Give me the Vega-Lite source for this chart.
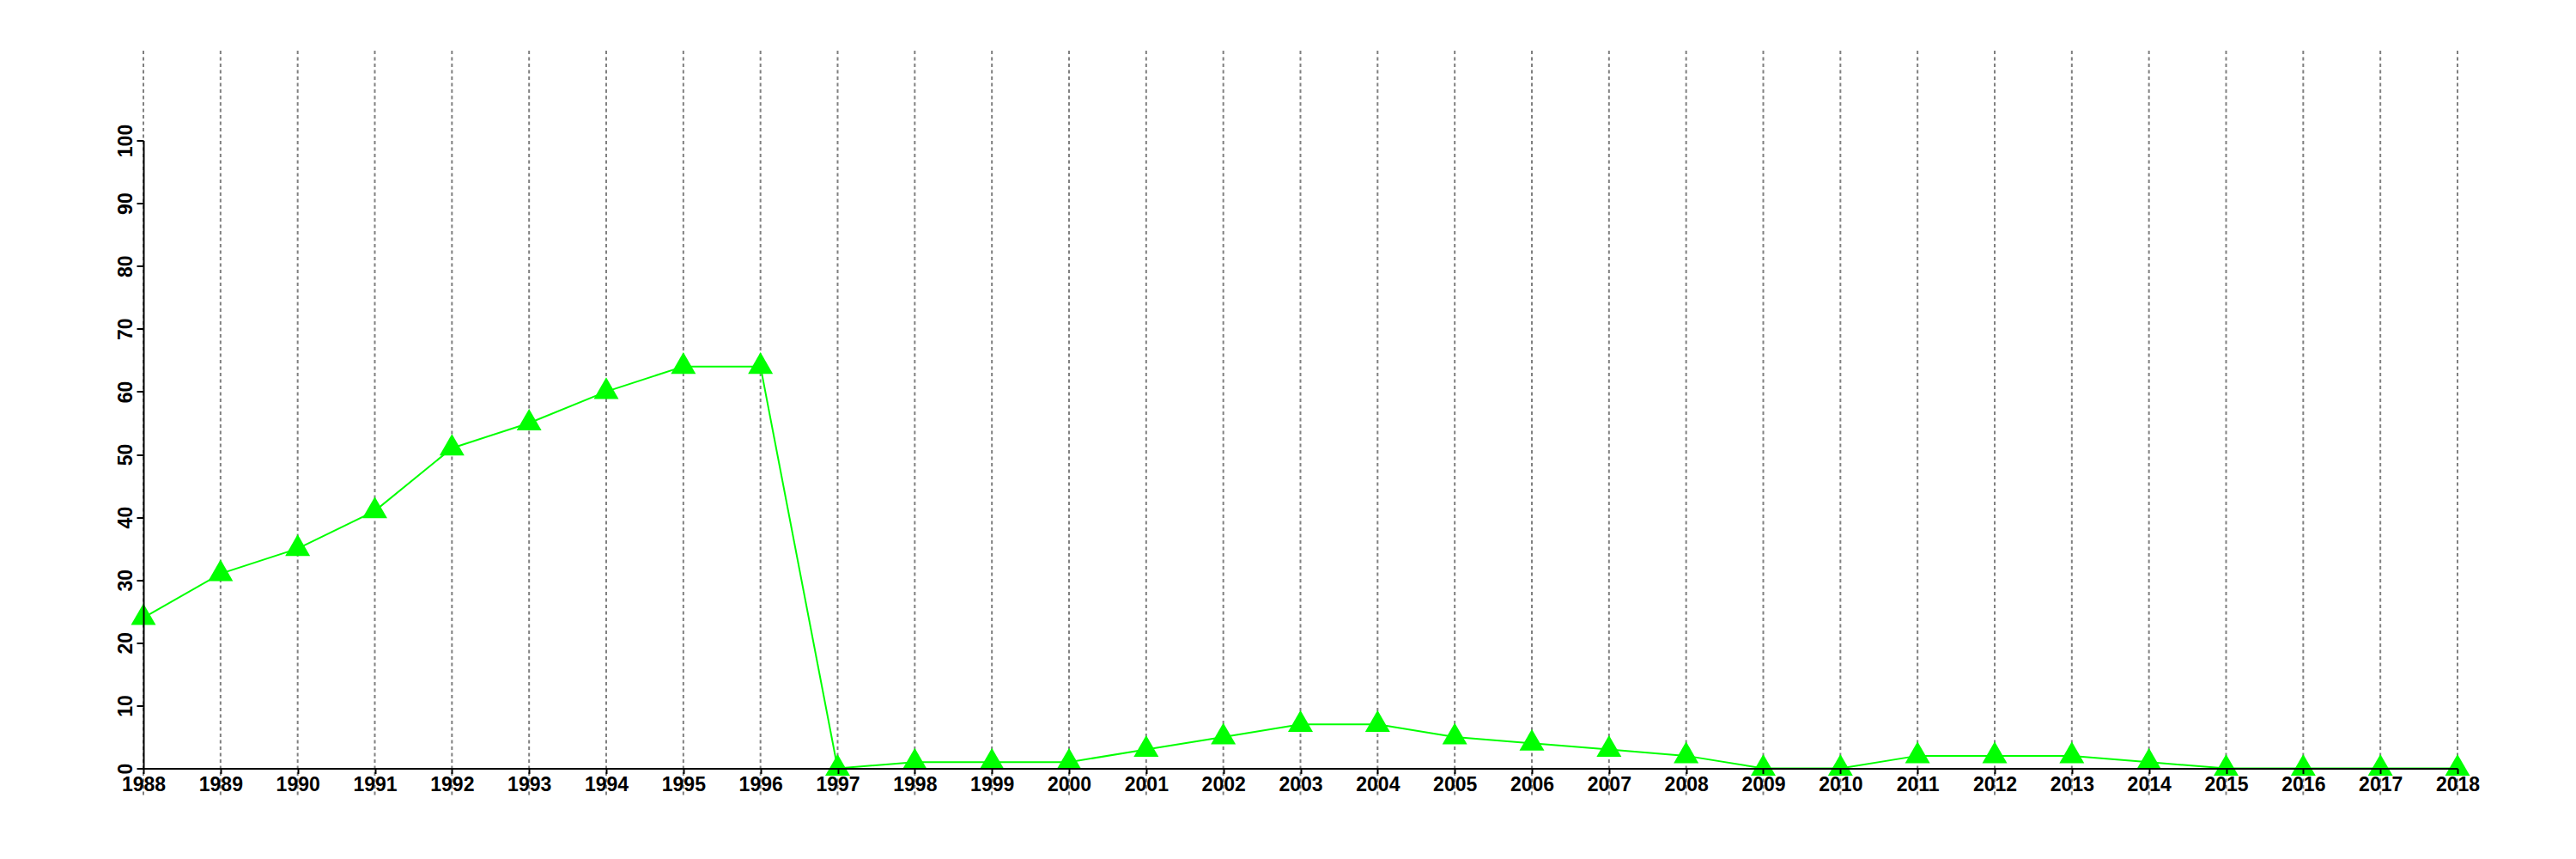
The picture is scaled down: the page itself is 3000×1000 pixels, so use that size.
{
  "$schema": "https://vega.github.io/schema/vega-lite/v6.json",
  "width": 2695,
  "height": 731,
  "autosize": "none",
  "padding": {"left": 167, "top": 163.5, "right": 138, "bottom": 105.5},
  "background": "white",
  "config": {"view": {"stroke": null}, "font": "Liberation Sans"},
  "data": {"values": [
    {"year": 1988, "value": 24}, {"year": 1989, "value": 31}, {"year": 1990, "value": 35},
    {"year": 1991, "value": 41}, {"year": 1992, "value": 51}, {"year": 1993, "value": 55},
    {"year": 1994, "value": 60}, {"year": 1995, "value": 64}, {"year": 1996, "value": 64},
    {"year": 1997, "value": 0}, {"year": 1998, "value": 1}, {"year": 1999, "value": 1},
    {"year": 2000, "value": 1}, {"year": 2001, "value": 3}, {"year": 2002, "value": 5},
    {"year": 2003, "value": 7}, {"year": 2004, "value": 7}, {"year": 2005, "value": 5},
    {"year": 2006, "value": 4}, {"year": 2007, "value": 3}, {"year": 2008, "value": 2},
    {"year": 2009, "value": 0}, {"year": 2010, "value": 0}, {"year": 2011, "value": 2},
    {"year": 2012, "value": 2}, {"year": 2013, "value": 2}, {"year": 2014, "value": 1},
    {"year": 2015, "value": 0}, {"year": 2016, "value": 0}, {"year": 2017, "value": 0},
    {"year": 2018, "value": 0}
  ]},
  "encoding": {
    "x": {
      "field": "year", "type": "quantitative",
      "scale": {"domain": [1988, 2018], "nice": false, "zero": false},
      "axis": {
        "title": null, "grid": false, "zindex": 1,
        "values": [1988,1989,1990,1991,1992,1993,1994,1995,1996,1997,1998,1999,2000,2001,2002,2003,2004,2005,2006,2007,2008,2009,2010,2011,2012,2013,2014,2015,2016,2017,2018],
        "format": "d", "labelFlush": false, "labelOverlap": false,
        "labelFont": "Liberation Sans", "labelFontWeight": "bold", "labelFontSize": 23,
        "labelColor": "black", "labelPadding": 2,
        "domainColor": "black", "domainWidth": 2,
        "tickColor": "black", "tickWidth": 2, "tickSize": 6
      }
    }
  },
  "layer": [
    {
      "mark": {"type": "rule", "color": "#808080", "strokeWidth": 2, "strokeDash": [4, 3.5]},
      "encoding": {
        "y": {"datum": 114.3, "type": "quantitative"},
        "y2": {"datum": -4.3}
      }
    },
    {
      "mark": {"type": "line", "color": "#00ff00", "strokeWidth": 2},
      "encoding": {
        "y": {
          "field": "value", "type": "quantitative",
          "scale": {"domain": [0, 100], "nice": false, "zero": true, "clamp": false},
          "axis": {
            "title": null, "grid": false, "zindex": 1,
            "values": [0,10,20,30,40,50,60,70,80,90,100],
            "labelAngle": -90, "labelAlign": "center", "labelBaseline": "alphabetic",
            "labelFont": "Liberation Sans", "labelFontWeight": "bold", "labelFontSize": 23,
            "labelColor": "black", "labelPadding": 6,
            "domainColor": "black", "domainWidth": 2,
            "tickColor": "black", "tickWidth": 2, "tickSize": 8
          }
        }
      }
    },
    {
      "mark": {"type": "point", "shape": "triangle-up", "filled": true, "color": "#00ff00", "opacity": 1, "size": 840, "yOffset": -4},
      "encoding": {
        "y": {"field": "value", "type": "quantitative"}
      }
    }
  ]
}
